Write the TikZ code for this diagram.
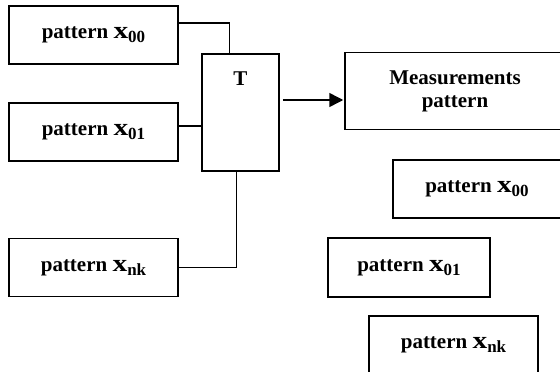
\documentclass[tikz,border=0pt]{standalone}
\usepackage{fontspec}
\setmainfont{Liberation Serif}
\usetikzlibrary{arrows.meta}
\newcommand{\patx}[1]{pattern \scalebox{1.4}[1.15]{x}\raisebox{-4pt}{\fontsize{17}{17}\selectfont #1}}

\begin{document}
\begin{tikzpicture}[x=1pt, y=-1pt, line width=1.5pt,
  every node/.style={font=\bfseries\fontsize{21}{23}\selectfont},
  box/.style={draw, rectangle, minimum width=169pt, minimum height=58pt, inner sep=0pt},
  arr/.style={-{Triangle[length=14pt,width=14pt]}}]
  \useasboundingbox (0,0) rectangle (560,372);
  % inputs on the left
  \node[box] (p00) at (93.5,35) {\patx{00}};
  \node[box] (p01) at (93.5,132) {\patx{01}};
  \node[box] (pnk) at (93.5,267.5) {\patx{nk}};
  % transform block
  \node[draw, minimum width=77pt, minimum height=117pt] (T) at (240.5,112.5) {};
  \node (Tname) at (240.5,79) {T};
  % outputs on the right
  \node[box, minimum width=220pt, minimum height=77pt, align=center] (meas) at (455,91) {Measurements\\pattern};
  \node[box, minimum width=168pt] (q00) at (477,189) {\patx{00}};
  \node[box, minimum width=162pt, minimum height=59pt] (q01) at (409,267.5) {\patx{01}};
  \node[box] (qnk) at (453.5,345) {\patx{nk}};
  % connectors
  \draw ([yshift=12pt]p00.east) -| ([xshift=-11pt]T.north);
  \draw ([yshift=6pt]p01.east) -- ([yshift=6pt]p01.east -| T.west);
  \draw ([xshift=-4pt]T.south) |- (pnk.east);
  \draw[arr, shorten <=3pt, shorten >=1pt] ([yshift=-9pt]meas.west -| T.east) -- ([yshift=-9pt]meas.west);
\end{tikzpicture}
\end{document}
